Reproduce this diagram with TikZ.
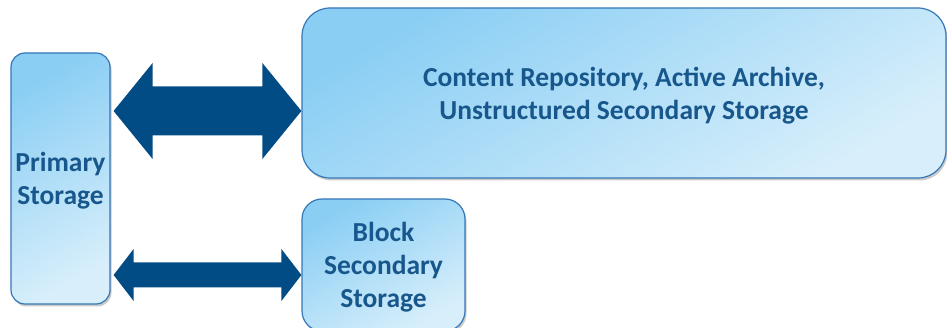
\documentclass[tikz,border=0pt]{standalone}
\usepackage{fontspec}
\setmainfont{Carlito}
\usetikzlibrary{shadows,calc}
\definecolor{boxtop}{HTML}{8ACEF4}
\definecolor{boxbot}{HTML}{D8EFFB}
\definecolor{boxline}{HTML}{3577B8}
\definecolor{labelblue}{HTML}{17578C}
\definecolor{arrowblue}{HTML}{024C86}
% centred label lines, set slightly below the box centre
\newcommand\tierlabel[1]{\raisebox{-3pt}[\height][\depth]{\begin{tabular}{@{}c@{}}#1\end{tabular}}}
\tikzset{
  storebox/.style={draw=boxline, line width=1.2pt, rounded corners=#1,
    top color=boxtop, bottom color=boxbot, shading angle=30,
    drop shadow={shadow xshift=1.5pt, shadow yshift=-2.5pt, opacity=0.35, fill=black!60},
    inner sep=0pt, font=\bfseries\fontsize{27.5}{33}\selectfont,
    text=labelblue},
  storebox/.default=14pt,
  linkarrow/.style={fill=arrowblue, draw=none}
}
% two-way block arrow from the east side of #1 to the west side of #2,
% centred on height #3, head half-width #4, shaft half-width #5, head length #6
\newcommand\twowayarrow[6]{%
  \path[linkarrow] let \p1=(#1.east), \p2=(#2.west) in
    (\x1+3pt,#3) -- (\x1+3pt+#6,#3-#4) -- (\x1+3pt+#6,#3-#5)
    -- (\x2-#6,#3-#5) -- (\x2-#6,#3-#4) -- (\x2,#3)
    -- (\x2-#6,#3+#4) -- (\x2-#6,#3+#5) -- (\x1+3pt+#6,#3+#5)
    -- (\x1+3pt+#6,#3+#4) -- cycle;}
\begin{document}
\begin{tikzpicture}[x=1pt,y=-1pt]
  \path[use as bounding box] (0,0) rectangle (947,328);
  \clip (0,0) rectangle (947,328);
  % storage tiers
  \node[storebox, minimum width=99pt, minimum height=251pt] (prim) at (60.5,178.5)
    {\tierlabel{Primary\\Storage}};
  \node[storebox=28pt, minimum width=644pt, minimum height=170pt] (arch) at (624,93)
    {\tierlabel{Content Repository, Active Archive,\\Unstructured Secondary Storage}};
  \node[storebox=20pt, minimum width=163pt, minimum height=132pt] (blk) at (383.5,265)
    {\tierlabel{Block\\Secondary\\Storage}};
  % two-way links between tiers
  \twowayarrow{prim}{arch}{111}{48}{24.5}{39}
  \twowayarrow{prim}{blk}{275}{26}{12.5}{20}
\end{tikzpicture}
\end{document}
